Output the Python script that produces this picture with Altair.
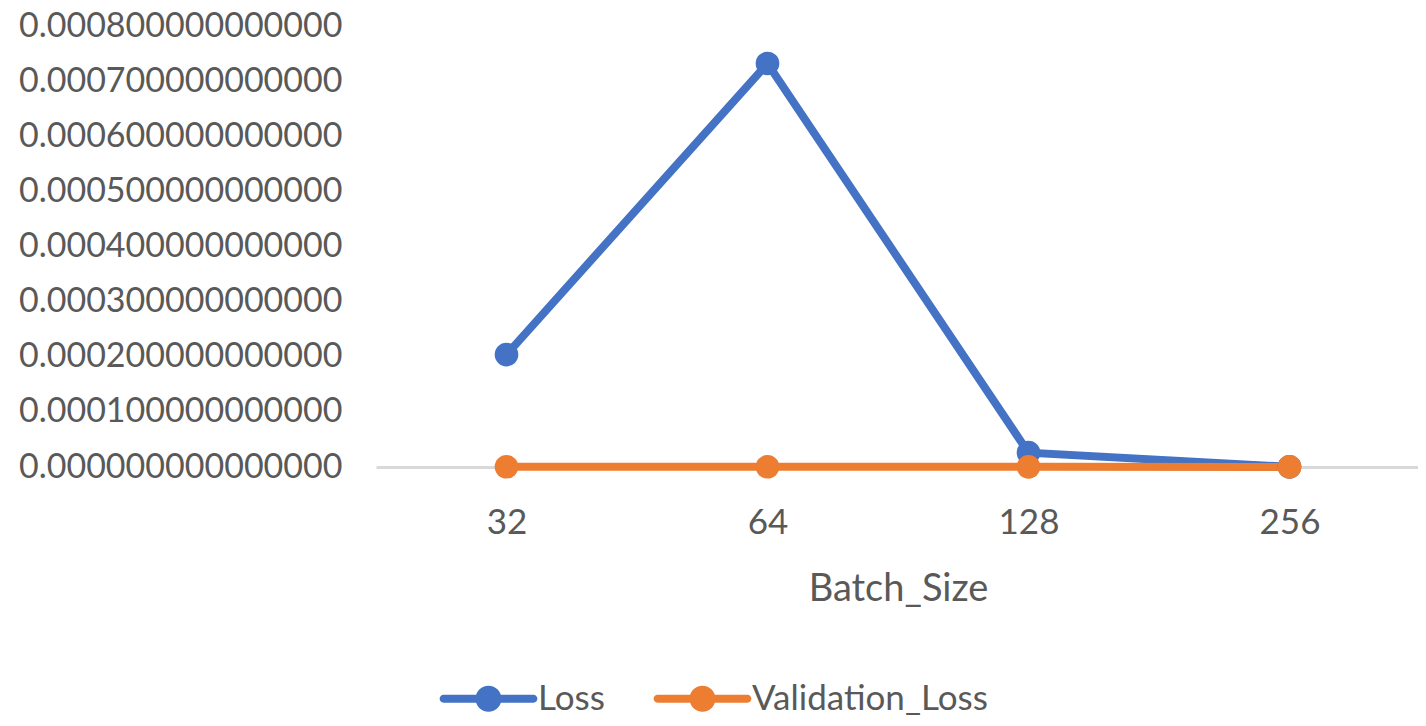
import altair as alt
import pandas as pd

batch_sizes = ["32", "64", "128", "256"]
loss = [0.000204, 0.000732, 0.000026, 0.0000003]
validation_loss = [0.0000004, 0.0000004, 0.0000003, 0.0000002]
series_names = ["Loss", "Validation_Loss"]
series_colors = ["#4472C4", "#ED7D31"]

rows = []
for b, v in zip(batch_sizes, loss):
    rows.append({"Batch_Size": b, "value": v, "series": "Loss"})
for b, v in zip(batch_sizes, validation_loss):
    rows.append({"Batch_Size": b, "value": v, "series": "Validation_Loss"})
df = pd.DataFrame(rows)

FONT = "Lato"
TXT = "#595959"

legend_shape = ("M -3.46 -0.3 L 3.46 -0.3 A 0.3 0.3 0 0 1 3.46 0.3 L -3.46 0.3 A 0.3 0.3 0 0 1 -3.46 -0.3 Z "
                "M -1 0 A 1 1 0 1 1 1 0 A 1 1 0 1 1 -1 0 Z")

color = alt.Color(
    "series:N",
    scale=alt.Scale(domain=series_names, range=series_colors),
    legend=alt.Legend(
        title=None, orient="none", direction="horizontal",
        legendX=95, legendY=655,
        symbolType=legend_shape, symbolSize=676, symbolStrokeWidth=0,
        symbolOpacity=1,
        labelFont=FONT, labelFontSize=35, labelColor=TXT, labelLimit=0,
        labelOffset=32, columnPadding=48,
    ),
)

x = alt.X(
    "Batch_Size:N", sort=batch_sizes,
    axis=alt.Axis(
        title="Batch_Size", labelAngle=0, ticks=False, grid=False,
        domainColor="#D9D9D9", domainWidth=3,
        labelFont=FONT, labelFontSize=35, labelColor=TXT, labelPadding=38,
        titleFont=FONT, titleFontSize=38, titleColor=TXT, titleFontWeight="normal",
        titlePadding=30,
    ),
)
y = alt.Y(
    "value:Q",
    scale=alt.Scale(domain=[0, 0.0008], nice=False),
    axis=alt.Axis(
        title=None, format=".15f", values=[i * 0.0001 for i in range(9)],
        domain=False, ticks=False, grid=False,
        labelFont=FONT, labelFontSize=34, labelColor=TXT, labelPadding=34,
        labelLimit=0,
    ),
)

chart = (
    alt.Chart(df)
    .mark_line(strokeWidth=8, point=alt.OverlayMarkDef(filled=True, size=560, opacity=1))
    .encode(x=x, y=y, color=color, order=alt.Order("series:N"))
    .properties(
        width=1044, height=441,
        padding={"left": 368, "top": 18, "right": -2, "bottom": 251},
        autosize=alt.AutoSizeParams(type="none"),
    )
    .configure_view(stroke=None)
    .configure_scale(bandPaddingInner=0, bandPaddingOuter=0)
)

chart.save("out.html", embed_options={"renderer": "svg", "actions": False})
